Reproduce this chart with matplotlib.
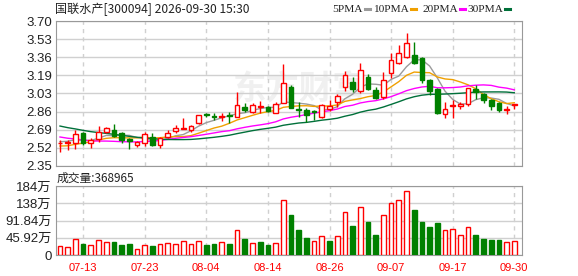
import numpy as np
import pandas as pd
import matplotlib
matplotlib.use('Agg')
import matplotlib.pyplot as plt
from matplotlib.lines import Line2D

plt.rcParams['font.family'] = ['Noto Sans CJK SC', 'DejaVu Sans']

# closes before the first shown day (only used to seed the moving averages)
prior_close = [3.02, 3.00, 2.97, 2.95, 2.93, 2.92, 2.90, 2.88, 2.86, 2.83,
               2.80, 2.78, 2.76, 2.74, 2.72, 2.70, 2.68, 2.66, 2.61, 2.59,
               2.55, 2.50, 2.47, 2.46, 2.50, 2.55, 2.57, 2.60, 2.595]

opens = [2.560, 2.560, 2.567, 2.655, 2.561, 2.598, 2.669, 2.685, 2.654, 2.598,
         2.545, 2.564, 2.623, 2.545, 2.617, 2.679, 2.692, 2.685, 2.748, 2.832,
         2.815, 2.808, 2.822, 2.810, 2.902, 2.856, 2.900, 2.896, 2.846, 2.934,
         3.083, 2.880, 2.871, 2.858, 2.810, 2.878, 2.949, 3.083, 3.135, 3.048,
         3.176, 3.058, 2.995, 3.213, 3.306, 3.368, 3.383, 3.358, 3.151, 3.070,
         2.831, 2.905, 2.909, 2.924, 3.067, 3.020, 2.964, 2.940, 2.875, 2.918]
highs = [2.590, 2.590, 2.685, 2.670, 2.608, 2.722, 2.716, 2.741, 2.669, 2.608,
         2.580, 2.670, 2.654, 2.623, 2.685, 2.732, 2.794, 2.732, 2.825, 2.846,
         2.840, 2.840, 2.855, 3.036, 2.934, 2.934, 2.958, 2.909, 2.949, 3.300,
         3.104, 2.950, 2.890, 2.870, 2.930, 2.964, 3.018, 3.237, 3.176, 3.306,
         3.207, 3.083, 3.228, 3.400, 3.477, 3.591, 3.507, 3.366, 3.157, 3.073,
         2.943, 2.964, 2.943, 3.080, 3.104, 3.030, 2.970, 2.950, 2.909, 2.925]
lows = [2.480, 2.500, 2.505, 2.545, 2.520, 2.576, 2.654, 2.617, 2.567, 2.505,
        2.530, 2.536, 2.536, 2.515, 2.608, 2.660, 2.692, 2.670, 2.745, 2.810,
        2.780, 2.770, 2.748, 2.803, 2.850, 2.846, 2.840, 2.856, 2.840, 2.934,
        2.887, 2.810, 2.762, 2.780, 2.800, 2.862, 2.902, 3.051, 3.042, 3.027,
        3.060, 2.971, 2.971, 3.166, 3.300, 3.353, 3.300, 3.120, 3.011, 2.830,
        2.800, 2.800, 2.878, 2.909, 2.971, 2.940, 2.871, 2.850, 2.831, 2.878]
closes = [2.565, 2.570, 2.645, 2.567, 2.592, 2.669, 2.700, 2.632, 2.592, 2.583,
          2.570, 2.645, 2.545, 2.608, 2.660, 2.700, 2.700, 2.722, 2.822, 2.825,
          2.808, 2.818, 2.815, 2.918, 2.871, 2.918, 2.904, 2.865, 2.927, 3.120,
          2.887, 2.875, 2.825, 2.855, 2.918, 2.909, 3.002, 3.197, 3.064, 3.244,
          3.064, 2.986, 3.151, 3.337, 3.400, 3.498, 3.306, 3.151, 3.051, 2.848,
          2.878, 2.922, 2.930, 3.073, 3.036, 2.964, 2.911, 2.871, 2.880, 2.925]

# volume in 万
volume = [24, 20.5, 41.8, 30, 26.7, 40, 34.7, 35.5, 26.7, 29.3,
          15.1, 26.7, 24, 29.3, 32, 29.3, 37.3, 29.3, 37.3, 27.5,
          30, 34.7, 30, 66.7, 42.7, 32, 34.7, 26.7, 32, 145.8,
          107.5, 66.7, 45.3, 36.4, 49.8, 37.3, 49.8, 113.8, 77.3, 127.2,
          88, 53.3, 105.8, 137.8, 145.8, 169.8, 120, 88, 74.7, 85.3,
          65.8, 68.5, 52.5, 73.8, 53.3, 42.7, 40, 40, 33.8, 36.9]
vol_up = [1, 1, 1, 0, 1, 1, 1, 0, 0, 0, 1, 1, 0, 1, 1, 1, 1, 1, 1, 0,
          0, 1, 0, 1, 0, 1, 0, 0, 1, 1, 0, 0, 0, 1, 1, 0, 1, 1, 0, 1,
          0, 0, 1, 1, 1, 1, 0, 0, 0, 0, 1, 1, 1, 1, 0, 0, 0, 0, 1, 1]

date_idx = [3, 11, 19, 27, 35, 43, 51, 59]
date_labels = ['07-13', '07-23', '08-04', '08-14', '08-26', '09-07', '09-17', '09-30']

price_ticks = ['2.35', '2.52', '2.69', '2.86', '3.03', '3.19', '3.36', '3.53', '3.70']
vol_tick_vals = [0, 45.92, 91.84, 137.76, 183.68]
vol_ticks = ['0', '45.92万', '91.84万', '138万', '184万']

title = '国联水产[300094] 2026-09-30 15:30'
last_vol = '成交量:368965'

ma_names = ['5PMA', '10PMA', '20PMA', '30PMA']
ma_colors = ['#9b9b9b', '#f0a000', '#ff00ff', '#00703a']

RED = '#ff0000'
GREEN = '#008000'
GRID = '#d0d0d0'
EDGE = '#999999'
num_font = ['Liberation Sans', 'Noto Sans CJK SC']

x = np.arange(len(closes))
o = np.array(opens); c = np.array(closes); h = np.array(highs); l = np.array(lows)
up = c >= o

all_close = pd.Series(prior_close + closes)
mas = [all_close.rolling(n).mean().values[-len(closes):] for n in (5, 10, 20, 30)]

fig = plt.figure(figsize=(5.78, 2.76), dpi=100)
ax = fig.add_axes([56/578, 1 - 166/276, 466/578, 145/276])
axv = fig.add_axes([56/578, 1 - 255/276, 466/578, 69/276])

xlim = (-0.52, 60.0)

# price panel
ax.text(31, 3.06, '东方财富', color='#f0f0f0', fontsize=24, fontweight='bold',
        ha='center', va='center', zorder=0)
for i in range(len(x)):
    col = RED if up[i] else GREEN
    ax.vlines(x[i], l[i], h[i], color=col, lw=1.0, zorder=3)
    bot = min(o[i], c[i])
    hgt = max(abs(c[i] - o[i]), 0.002)
    ax.bar(x[i], hgt, bottom=bot, width=0.62,
           facecolor='white' if up[i] else GREEN, edgecolor=col, lw=1.0, zorder=4)
for m, col in zip(mas, ma_colors):
    ax.plot(x, m, color=col, lw=1.0, zorder=2)

ax.set_xlim(*xlim)
ax.set_ylim(2.35, 3.70)
ax.set_yticks(np.linspace(2.35, 3.70, 9))
ax.set_yticklabels(price_ticks, family=num_font, fontsize=9.5, color='#222222')
ax.set_xticks(date_idx)
ax.set_xticklabels([])
ax.grid(axis='y', color=GRID, lw=1.0, zorder=0)
ax.grid(axis='x', color=GRID, lw=1.0, ls=(0, (3, 3)), zorder=0)
ax.tick_params(length=0, pad=3)
for sp in ax.spines.values():
    sp.set_color(EDGE)

# volume panel
for i in range(len(x)):
    if vol_up[i]:
        axv.bar(x[i], volume[i], width=0.62, facecolor='white', edgecolor=RED, lw=1.0, zorder=3)
    else:
        axv.bar(x[i], volume[i], width=0.62, facecolor=GREEN, edgecolor=GREEN, lw=1.0, zorder=3)
axv.set_xlim(*xlim)
axv.set_ylim(0, 183.68)
axv.set_yticks(vol_tick_vals)
axv.set_yticklabels(vol_ticks, family=num_font, fontsize=9.5, color='#222222')
axv.set_xticks(date_idx)
axv.set_xticklabels(date_labels, family=num_font, fontsize=8, color=RED)
axv.grid(axis='y', color=GRID, lw=1.0, zorder=0)
axv.grid(axis='x', color=GRID, lw=1.0, ls=(0, (3, 3)), zorder=0)
axv.tick_params(length=0, pad=3)
axv.tick_params(axis='x', pad=6)
for sp in axv.spines.values():
    sp.set_color(EDGE)

# texts
fig.text(55/578, 1 - 9/276, title, fontsize=8.7, va='center', ha='left', color='#222222')
fig.text(57/578, 1 - 178/276, last_vol, fontsize=8.5, va='center', ha='left', color='#222222')

dash_x = [365, 411, 460, 505]
for name, col, dx in zip(ma_names, ma_colors, dash_x):
    fig.text((dx - 2)/578, 1 - 9/276, name, family='Liberation Serif', fontsize=8.2,
             va='center', ha='right', color='#222222')
    fig.add_artist(Line2D([dx/578, (dx + 5)/578], [1 - 9/276, 1 - 9/276],
                          color=col, lw=2.2, transform=fig.transFigure))

fig.savefig('out.png', dpi=100)
